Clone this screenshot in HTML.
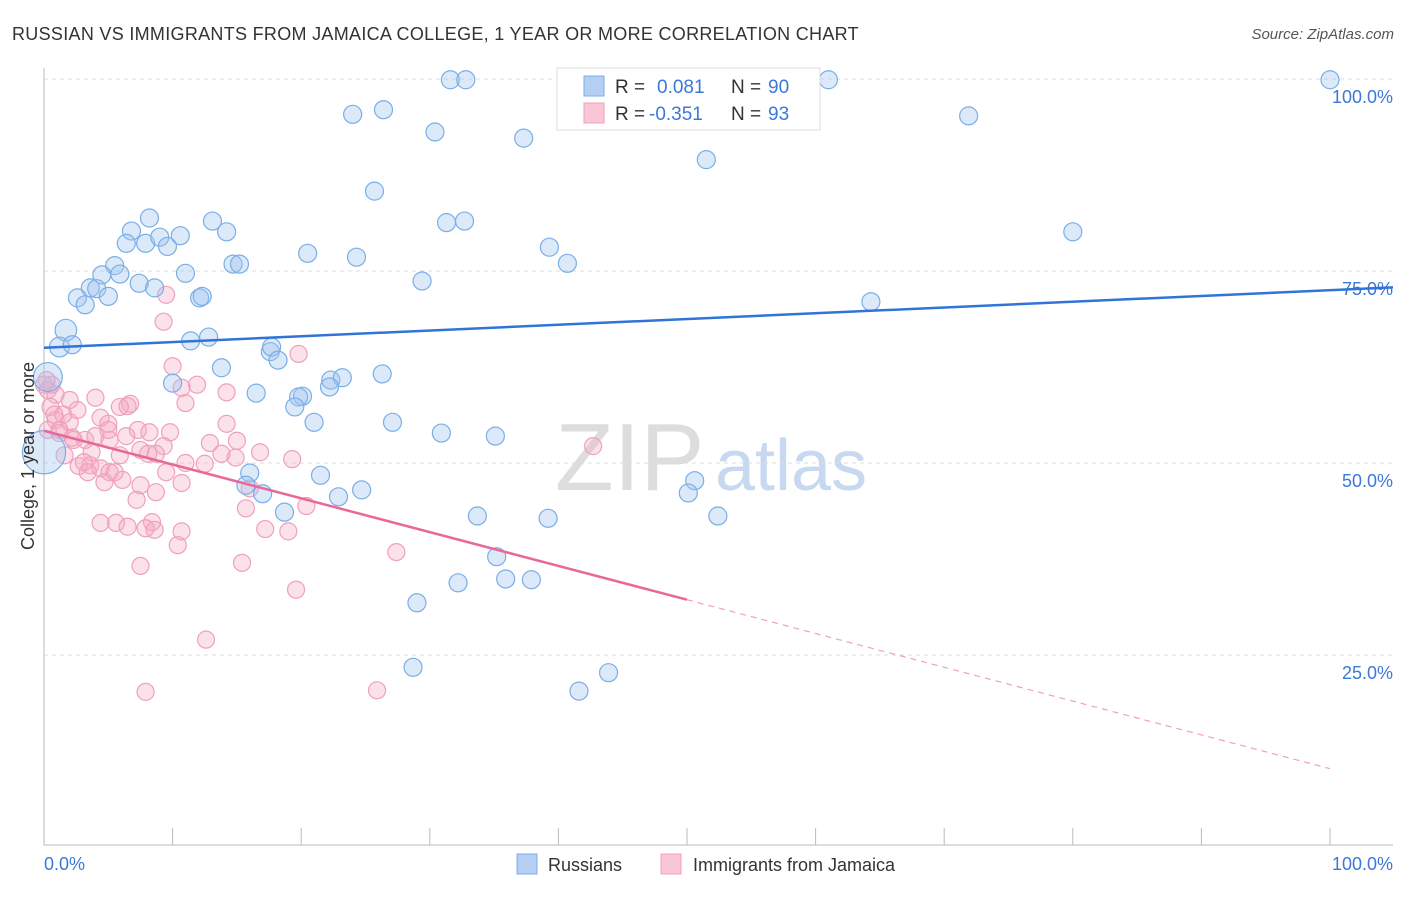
<!DOCTYPE html>
<html><head><meta charset="utf-8"><style>
body{margin:0;background:#fff;font-family:"Liberation Sans",sans-serif;}
svg text{font-family:"Liberation Sans",sans-serif;}
</style></head><body>
<svg id="chart" width="1406" height="892" xmlns="http://www.w3.org/2000/svg">
<text x="12" y="40" font-size="18" fill="#333" letter-spacing="0.3">RUSSIAN VS IMMIGRANTS FROM JAMAICA COLLEGE, 1 YEAR OR MORE CORRELATION CHART</text>
<text x="1394" y="39" font-size="15" fill="#555" text-anchor="end" font-style="italic">Source: ZipAtlas.com</text>
<text x="555" y="490" font-size="96" fill="#ddd" font-family="Liberation Serif">ZIP</text>
<text x="715" y="490" font-size="72" fill="#c7d9f0">atlas</text>
<g id="grid"></g>
<g id="axes"></g>
<g id="pink"></g>
<g id="blue"></g>
<g id="trends"></g>
<text transform="translate(34,456) rotate(-90)" font-size="18" fill="#333" text-anchor="middle">College, 1 year or more</text>
<text x="44" y="870" font-size="18" fill="#3b78d8">0.0%</text>
<text x="1393" y="870" font-size="18" fill="#3b78d8" text-anchor="end">100.0%</text>
<g>
<rect x="557" y="68" width="263" height="62" fill="#fff" stroke="#ddd"/>
<rect x="584" y="76" width="20" height="20" fill="#b5cff2" stroke="#7aaee8"/>
<text x="615" y="93" font-size="19" fill="#333">R =</text>
<text x="657" y="93" font-size="19" fill="#3b78d8">0.081</text>
<text x="731" y="93" font-size="19" fill="#333">N =</text>
<text x="768" y="93" font-size="19" fill="#3b78d8">90</text>
<rect x="584" y="103" width="20" height="20" fill="#f8c6d6" stroke="#f0a0bc"/>
<text x="615" y="120" font-size="19" fill="#333">R =</text>
<text x="649" y="120" font-size="19" fill="#3b78d8">-0.351</text>
<text x="731" y="120" font-size="19" fill="#333">N =</text>
<text x="768" y="120" font-size="19" fill="#3b78d8">93</text>
</g>
<g>
<rect x="517" y="854" width="20" height="20" fill="#b5cff2" stroke="#7aaee8"/>
<text x="548" y="871" font-size="18" fill="#333">Russians</text>
<rect x="661" y="854" width="20" height="20" fill="#f8c6d6" stroke="#f0a0bc"/>
<text x="693" y="871" font-size="18" fill="#333">Immigrants from Jamaica</text>
</g>
</svg>
<script>
const yTicks=[25,50,75,100];
const yTickLabels=["25.0%","50.0%","75.0%","100.0%"];
const blueX=[31.6,32.8,61.0,100,24.0,26.4,71.9,30.4,37.3,51.5,25.7,8.2,13.1,31.3,32.7,6.8,14.2,10.6,6.4,7.9,9.0,9.6,80.0,39.3,20.5,24.3,40.7,14.7,15.2,5.5,4.5,5.9,11.0,29.4,3.6,4.1,7.4,8.6,2.6,5.0,12.1,12.3,3.2,64.3,1.7,12.8,11.4,1.2,2.2,17.6,17.7,18.2,13.8,0.3,26.3,10.0,22.3,23.2,22.2,16.5,20.1,19.8,19.5,21.0,27.1,30.9,35.1,0,16.0,21.5,50.6,15.7,17.0,24.7,22.9,50.1,18.7,33.7,39.2,52.4,35.2,32.2,35.9,37.9,29.0,28.7,41.6,43.9,59.4];
const blueY=[99.9,99.9,99.9,99.9,95.4,96.0,95.2,93.1,92.3,89.5,85.4,81.9,81.5,81.3,81.5,80.2,80.1,79.6,78.6,78.6,79.4,78.2,80.1,78.1,77.3,76.8,76.0,75.9,75.9,75.7,74.5,74.6,74.7,73.7,72.8,72.7,73.4,72.8,71.5,71.7,71.5,71.7,70.6,71.0,67.3,66.4,65.9,65.1,65.4,64.5,65.1,63.4,62.4,61.2,61.6,60.4,60.8,61.1,59.9,59.1,58.7,58.6,57.3,55.3,55.3,53.9,53.5,51.4,48.7,48.4,47.7,47.1,46.0,46.5,45.6,46.1,43.6,43.1,42.8,43.1,37.8,34.4,34.9,34.8,31.8,23.4,20.3,22.7,99.9];
const blueSize=[1,1,1,1,1,1,1,1,1,1,1,1,1,1,1,1,1,1,1,1,1,1,1,1,1,1,1,1,1,1,1,1,1,1,1,1,1,1,1,1,1,1,1,1,1.2,1,1,1.1,1,1,1,1,1,1.6,1,1,1,1,1,1,1,1,1,1,1,1,1,2.4,1,1,1,1,1,1,1,1,1,1,1,1,1,1,1,1,1,1,1,1,1];
const pinkX=[0,0.3,0.9,2.0,4.0,6.7,11.0,0.5,0.9,1.5,2.0,2.6,4.4,5.0,5.9,7.3,8.2,9.8,11.9,9.3,9.5,10.0,10.7,14.2,14.2,15.0,19.8,19.3,0.3,1.2,2.2,3.2,4.0,5.1,6.4,7.5,8.1,9.3,11.0,12.5,12.9,13.8,14.9,16.8,2.7,3.6,4.4,5.1,6.1,7.5,8.7,9.5,10.7,1.6,3.4,4.7,5.5,7.2,8.4,8.6,7.9,10.7,4.4,5.6,6.5,10.4,16.0,15.7,17.2,19.0,20.4,7.5,15.4,19.6,12.6,7.9,25.9,27.4,42.7,6.5,5.0,1.2,3.7,3.1,5.9,8.7,2.3,0.8,0.6,0.2];
const pinkY=[60.2,59.5,58.9,58.2,58.5,57.7,57.8,57.3,55.6,56.3,55.3,56.9,55.9,55.1,57.3,54.3,54.0,54.0,60.2,68.4,71.9,62.6,59.8,59.2,55.1,52.9,64.2,50.5,54.3,54.3,53.3,53.0,53.5,53.0,53.5,51.7,51.2,52.2,50.0,49.9,52.6,51.2,50.7,51.4,49.6,49.7,49.3,48.8,47.8,47.1,46.2,48.8,47.4,51.0,48.8,47.5,48.8,45.2,42.3,41.3,41.5,41.1,42.2,42.2,41.7,39.3,46.7,44.1,41.4,41.1,44.4,36.6,37.0,33.5,27.0,20.2,20.4,38.4,52.2,57.4,54.3,53.9,51.4,50.1,51.0,51.2,53.0,56.3,60.2,60.8];
const blueTrend=[65.0,0.075];
const pinkTrend=[54.2,-0.44];
const pinkSolidEnd=50;

const NS="http://www.w3.org/2000/svg";
const X0=44,X1=1330,Y0=847,Y1=79;
function sx(v){return X0+(X1-X0)*v/100;}
function sy(v){return Y0-(Y0-Y1)*v/100;}
function mk(t,a,p){const e=document.createElementNS(NS,t);for(const k in a)e.setAttribute(k,a[k]);p.appendChild(e);return e;}
const grid=document.getElementById('grid'),axes=document.getElementById('axes');
yTicks.forEach((t,i)=>{
  const l=mk('line',{x1:44,x2:1393,y1:sy(t),y2:sy(t),stroke:'#ddd','stroke-dasharray':'4,4'},grid);
  
  
  const tx=mk('text',{x:1393,y:sy(t)+24,'font-size':18,fill:'#3b78d8','text-anchor':'end'},grid);
  tx.textContent=yTickLabels[i];
  
  
});
const ax=mk('path',{d:'M44,68 L44,845 L1393,845',fill:'none',stroke:'#bbb'},axes);


for(let k=0;k<=10;k++){
  const tk=mk('line',{x1:sx(k*10),x2:sx(k*10),y1:828,y2:845,stroke:'#bbb'},axes);
  
  
}
const pg=document.getElementById('pink');
pinkX.forEach((x,i)=>{
  const c=mk('circle',{cx:sx(x),cy:sy(pinkY[i]),r:8.5,fill:'rgba(244,170,195,0.35)',stroke:'#f0a0bc','stroke-width':1.2},pg);
  
  
});
const bg=document.getElementById('blue');
blueX.forEach((x,i)=>{
  const c=mk('circle',{cx:sx(x),cy:sy(blueY[i]),r:9*blueSize[i],fill:'rgba(160,196,240,0.38)',stroke:'#7aaee8','stroke-width':1.2},bg);
  
  
});
const tg=document.getElementById('trends');
const xe=(1393-X0)/(X1-X0)*100;
const bl=mk('line',{x1:sx(0),y1:sy(blueTrend[0]),x2:sx(xe),y2:sy(blueTrend[0]+blueTrend[1]*xe),stroke:'#2f74d6','stroke-width':2.5},tg);


const pl=mk('line',{x1:sx(0),y1:sy(pinkTrend[0]),x2:sx(pinkSolidEnd),y2:sy(pinkTrend[0]+pinkTrend[1]*pinkSolidEnd),stroke:'#e8689a','stroke-width':2.5},tg);


const pd=mk('line',{x1:sx(pinkSolidEnd),y1:sy(pinkTrend[0]+pinkTrend[1]*pinkSolidEnd),x2:sx(100),y2:sy(pinkTrend[0]+pinkTrend[1]*100),stroke:'#f0a0bc','stroke-width':1.2,'stroke-dasharray':'6,5'},tg);


</script>
</body></html>
